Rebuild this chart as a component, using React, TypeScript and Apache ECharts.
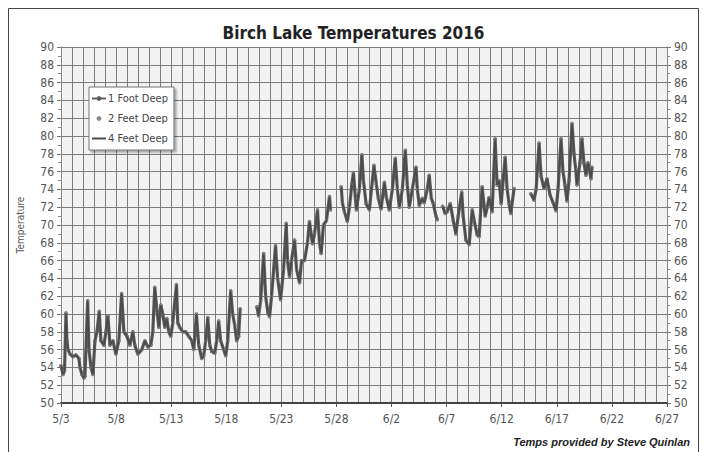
import React, { useEffect, useRef } from "react";
import * as echarts from "echarts";

// X positions are days after 5/3 (0 = 5/3 00:00); null temp marks a gap in the record
const dayOffsets: number[] = [
  0.0, 0.18, 0.32, 0.45, 0.54, 0.63, 0.82, 1.09, 1.36, 1.63, 1.72, 1.9, 2.08, 2.17, 2.26, 2.42, 2.54, 2.72, 2.9, 3.08,
  3.26, 3.47, 3.62, 3.89, 4.08, 4.26, 4.44, 4.71, 4.98, 5.25, 5.5, 5.71, 5.98, 6.25, 6.52, 6.7, 6.97, 7.34, 7.61, 7.88,
  8.15, 8.33, 8.51, 8.7, 8.88, 9.06, 9.24, 9.42, 9.6, 9.78, 9.96, 10.14, 10.48, 10.6, 10.78, 11.05, 11.32, 11.59, 11.87, 12.05,
  12.29, 12.5, 12.77, 12.95, 13.13, 13.32, 13.5, 13.68, 13.95, 14.13, 14.31, 14.49, 14.76, 14.95, 15.13, 15.4, 15.58, 15.76, 15.94, 16.12,
  16.26, 16.8,
  17.78, 17.93, 18.12, 18.39, 18.57, 18.78, 18.93, 19.11, 19.47, 19.66, 19.93, 20.2, 20.44, 20.56, 20.74, 20.92, 21.2, 21.38, 21.65, 21.83,
  22.1, 22.37, 22.55, 22.83, 23.01, 23.28, 23.46, 23.61, 23.82, 24.09, 24.37, 24.46, 25.0,
  25.43, 25.54, 25.72, 25.99, 26.18, 26.4, 26.54, 26.72, 26.81, 27.08, 27.31, 27.45, 27.69, 27.99, 28.4, 28.62, 28.8, 29.05, 29.35, 29.53,
  29.8, 30.07, 30.34, 30.53, 30.71, 30.98, 31.25, 31.43, 31.61, 31.88, 32.22, 32.34, 32.52, 32.79, 32.97, 33.24, 33.42, 33.61, 33.79, 34.03,
  34.15, 34.4,
  34.63, 34.87, 35.05, 35.33, 35.6, 35.84, 36.05, 36.37, 36.5, 36.75, 37.05, 37.32, 37.5, 37.77, 37.95, 38.22, 38.5, 38.68, 38.86, 39.13,
  39.4, 39.58, 39.76, 39.95, 40.31, 40.49, 40.67, 40.82, 41.12, 42.0,
  42.64, 42.93, 43.12, 43.39, 43.57, 43.84, 44.11, 44.38, 44.66, 44.93, 45.11, 45.38, 45.56, 45.74, 45.92, 46.11, 46.38, 46.56, 46.71, 46.83,
  47.1, 47.28, 47.46, 47.64, 47.83, 48.1, 48.19,
];

const tempReadings: (number | null)[] = [
  54.2, 53.2, 53.6, 60.1, 57.0, 56.0, 55.5, 55.2, 55.4, 55.0, 54.0, 53.2, 52.8, 53.0, 56.0, 61.5, 56.0, 54.0, 53.2, 57.0,
  58.0, 60.3, 57.0, 56.5, 58.0, 59.8, 56.5, 57.0, 55.5, 57.0, 62.3, 58.0, 57.5, 56.5, 58.0, 56.5, 55.5, 56.0, 57.0, 56.3,
  56.5, 58.0, 63.0, 60.5, 58.5, 61.0, 60.0, 58.5, 59.5, 58.0, 57.5, 59.0, 63.3, 59.0, 58.5, 58.0, 58.0, 57.5, 57.0, 56.0,
  60.0, 56.5, 55.0, 55.3, 57.0, 59.6, 56.5, 55.8, 55.6, 57.0, 59.2, 57.0, 56.0, 55.3, 57.0, 62.6, 60.0, 58.8, 57.0, 57.5,
  60.6, null,
  60.8, 59.8, 61.5, 66.8, 62.0, 60.1, 59.7, 62.0, 67.7, 64.0, 61.6, 65.0, 70.2, 66.0, 64.2, 66.0, 68.3, 65.0, 63.5, 66.0,
  66.0, 68.0, 70.4, 67.9, 69.0, 71.7, 68.0, 66.8, 70.0, 70.5, 73.2, 71.7, null,
  74.3, 72.5, 71.5, 70.4, 72.0, 74.6, 75.9, 73.0, 71.7, 74.0, 77.9, 75.0, 72.4, 71.7, 76.7, 74.6, 73.0, 71.8, 74.8, 73.1,
  71.7, 74.0, 77.5, 74.0, 72.0, 74.0, 78.4, 74.5, 72.0, 74.0, 76.5, 74.0, 72.2, 73.0, 72.5, 74.0, 75.6, 73.0, 72.4, 71.0,
  70.6, null,
  72.1, 71.3, 71.5, 72.4, 70.5, 69.0, 71.0, 73.7, 71.0, 68.3, 67.8, 71.7, 70.5, 68.9, 68.7, 74.3, 71.0, 72.0, 73.1, 71.5,
  79.7, 74.5, 75.0, 72.4, 77.6, 74.0, 72.4, 71.3, 74.1, null,
  73.5, 72.8, 74.0, 79.2, 75.5, 74.1, 75.2, 73.4, 72.5, 71.6, 74.0, 79.7, 76.0, 74.5, 72.7, 75.0, 81.4, 78.0, 76.3, 74.5,
  77.0, 79.7, 77.0, 75.6, 77.0, 75.2, 76.5,
];

const seriesNames: string[] = ["1 Foot Deep", "2 Feet Deep", "4 Feet Deep"];
const xTickLabels: string[] = ["5/3", "5/8", "5/13", "5/18", "5/23", "5/28", "6/2", "6/7", "6/12", "6/17", "6/22", "6/27"];
const titleText = "Birch Lake Temperatures 2016";
const creditText = "Temps provided by Steve Quinlan";
const yAxisName = "Temperature";

const NARROW = "'Liberation Sans Narrow', 'DejaVu Sans Condensed', 'Roboto Condensed', 'Arial Narrow', 'Liberation Sans', sans-serif";

export default function App() {
  const ref = useRef<HTMLDivElement>(null);

  useEffect(() => {
    if (!ref.current) return;
    const chart = echarts.init(ref.current, undefined, { renderer: "svg" });

    const pairs = dayOffsets.map((d, i) => [d, tempReadings[i] === null ? "-" : tempReadings[i]]);

    const yAxisCommon = {
      type: "value" as const,
      min: 50,
      max: 90,
      interval: 2,
      axisLine: { show: true, lineStyle: { color: "#888", width: 1 } },
      axisTick: { show: true, length: 4, lineStyle: { color: "#777" } },
      minorTick: { show: true, splitNumber: 2, length: 3, lineStyle: { color: "#888" } },
      axisLabel: { fontSize: 12, color: "#555", fontFamily: NARROW, margin: 7 },
    };

    chart.setOption({
      animation: false,
      backgroundColor: "#ffffff",
      title: {
        text: titleText,
        left: "center",
        top: 19,
        textStyle: { fontSize: 17, fontWeight: "bold", color: "#222", fontFamily: NARROW },
      },
      legend: {
        orient: "vertical",
        left: 89,
        top: 87,
        data: [
          { name: seriesNames[0] },
          { name: seriesNames[1] },
          { name: seriesNames[2], icon: "path://M0,0 L14,0 L14,2 L0,2 Z" },
        ],
        itemWidth: 14,
        itemHeight: 6,
        itemGap: 9,
        padding: [6, 6, 6, 2],
        backgroundColor: "#ffffff",
        borderColor: "#777",
        borderWidth: 1,
        shadowColor: "rgba(0,0,0,0.35)",
        shadowBlur: 2,
        shadowOffsetX: 2,
        shadowOffsetY: 2,
        textStyle: { fontSize: 11, color: "#444", fontFamily: NARROW, padding: [0, 0, 0, -3] },
      },
      grid: {
        left: 61,
        right: 40,
        top: 47,
        bottom: 49,
        show: true,
        backgroundColor: "#f2f2f2",
        borderWidth: 0,
      },
      xAxis: {
        type: "value",
        min: 0,
        max: 55,
        interval: 5,
        axisLine: { show: true, onZero: false, lineStyle: { color: "#444", width: 2 } },
        axisTick: { show: true, length: 4, lineStyle: { color: "#555" } },
        minorTick: { show: false, splitNumber: 5 },
        splitLine: { show: true, lineStyle: { color: "#7c7c7c", width: 1 } },
        minorSplitLine: { show: true, lineStyle: { color: "#7c7c7c", width: 1 } },
        axisLabel: {
          fontSize: 12,
          color: "#555",
          fontFamily: NARROW,
          margin: 10,
          formatter: (v: number) => xTickLabels[Math.round(v / 5)] ?? "",
        },
      },
      yAxis: [
        {
          ...yAxisCommon,
          position: "left",
          name: yAxisName,
          nameLocation: "middle",
          nameGap: 36,
          nameTextStyle: { fontSize: 10, color: "#555", fontFamily: NARROW },
          splitLine: { show: true, lineStyle: { color: "#7c7c7c", width: 1 } },
        },
        {
          ...yAxisCommon,
          position: "right",
          splitLine: { show: false },
        },
      ],
      series: [
        {
          name: seriesNames[0],
          type: "line",
          data: pairs,
          connectNulls: false,
          showSymbol: true,
          symbol: "circle",
          symbolSize: 3.5,
          lineStyle: { color: "#5e5e5e", width: 3.2 },
          itemStyle: { color: "#5e5e5e" },
          z: 3,
        },
        {
          name: seriesNames[1],
          type: "line",
          data: pairs,
          connectNulls: false,
          showSymbol: true,
          symbol: "circle",
          symbolSize: 3,
          lineStyle: { width: 0, opacity: 0 },
          itemStyle: { color: "#8a8a8a" },
          z: 4,
        },
        {
          name: seriesNames[2],
          type: "line",
          data: pairs,
          connectNulls: false,
          showSymbol: false,
          symbol: "none",
          lineStyle: { color: "#4a4a4a", width: 1.4 },
          itemStyle: { color: "#4a4a4a" },
          z: 5,
        },
      ],
      graphic: [
        {
          type: "rect",
          shape: { x: 8.5, y: 8.5, width: 690, height: 470 },
          style: { fill: "none", stroke: "#444", lineWidth: 1 },
          silent: true,
          z: 0,
        },
        {
          type: "text",
          right: 17,
          top: 436,
          style: {
            text: creditText,
            font: "italic bold 11px 'Liberation Sans', Arial, sans-serif",
            fill: "#222",
          },
        },
      ],
    });

    return () => chart.dispose();
  }, []);

  return <div ref={ref} style={{ position: "fixed", left: 0, top: 0, width: 707, height: 452 }} />;
}
